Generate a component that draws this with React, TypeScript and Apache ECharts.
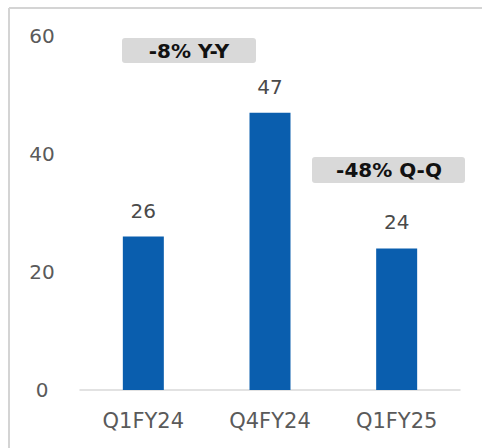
import React, { useEffect, useRef } from "react";
import * as echarts from "echarts";

const categories = ["Q1FY24", "Q4FY24", "Q1FY25"];
const values = [26, 47, 24];
const yTicks = { min: 0, max: 60, interval: 20 };
const annotations = ["-8% Y-Y", "-48% Q-Q"];

const FONT = "'DejaVu Sans', sans-serif";

export default function App() {
  const ref = useRef<HTMLDivElement>(null);
  useEffect(() => {
    if (!ref.current) return;
    const chart = echarts.init(ref.current, undefined, { renderer: "svg" });
    chart.setOption({
      animation: false,
      backgroundColor: "#ffffff",
      grid: { left: 80, right: 22, top: 36, bottom: 58 },
      xAxis: {
        type: "category",
        data: categories,
        axisLine: { show: true, lineStyle: { color: "#d9d9d9", width: 1.5 } },
        axisTick: { show: false },
        axisLabel: { color: "#5a5a5a", fontSize: 21, fontFamily: FONT, margin: 20 },
      },
      yAxis: {
        type: "value",
        min: yTicks.min,
        max: yTicks.max,
        interval: yTicks.interval,
        axisLine: { show: false },
        axisTick: { show: false },
        splitLine: { show: false },
        axisLabel: { color: "#5a5a5a", fontSize: 20, fontFamily: FONT, align: "center", margin: 38 },
      },
      series: [
        {
          type: "bar",
          data: values,
          barWidth: 41,
          itemStyle: { color: "#0a5eae" },
          label: {
            show: true,
            position: "top",
            distance: 16,
            color: "#4a4a4a",
            fontSize: 20,
            fontFamily: FONT,
          },
        },
      ],
      graphic: [
        { type: "line", shape: { x1: 9, y1: 8, x2: 482, y2: 8 }, style: { stroke: "#d4d4d4", lineWidth: 2 } },
        { type: "line", shape: { x1: 9, y1: 8, x2: 9, y2: 448 }, style: { stroke: "#d4d4d4", lineWidth: 2 } },
        {
          type: "rect",
          shape: { x: 122, y: 38, width: 134, height: 25, r: 3 },
          style: { fill: "#d9d9d9" },
        },
        {
          type: "text",
          x: 189,
          y: 51,
          style: {
            text: annotations[0],
            fill: "#111111",
            font: "bold 20px 'DejaVu Sans', sans-serif",
            align: "center",
            verticalAlign: "middle",
          },
        },
        {
          type: "rect",
          shape: { x: 312, y: 157, width: 153, height: 26, r: 3 },
          style: { fill: "#d9d9d9" },
        },
        {
          type: "text",
          x: 389,
          y: 170,
          style: {
            text: annotations[1],
            fill: "#111111",
            font: "bold 20px 'DejaVu Sans', sans-serif",
            align: "center",
            verticalAlign: "middle",
          },
        },
      ],
    });
    return () => chart.dispose();
  }, []);
  return (
    <div
      ref={ref}
      style={{ position: "fixed", left: 0, top: 0, width: 482, height: 448 }}
    />
  );
}
